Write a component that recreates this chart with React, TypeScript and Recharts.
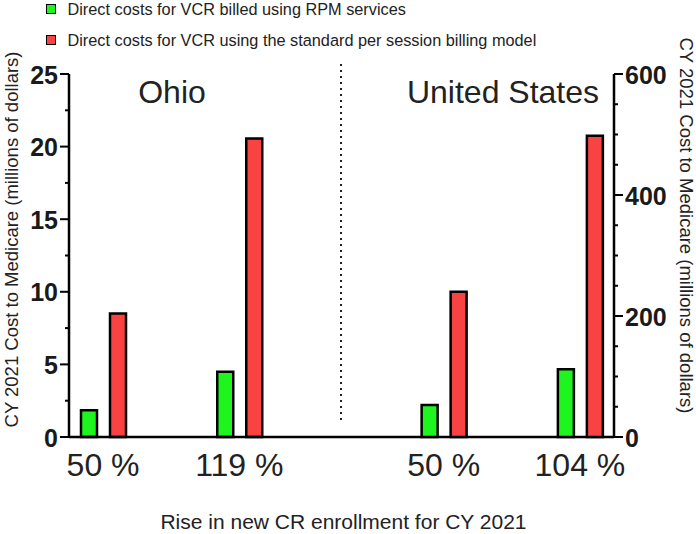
import { BarChart, Bar, XAxis, YAxis, Legend, Label } from "recharts";

const FONT = "'Liberation Sans', Arial, sans-serif";

// rise in new CR enrollment (x categories)
const OHIO_RISE = ["50 %", "119 %"];
const US_RISE = ["50 %", "104 %"];

// CY 2021 cost to Medicare, millions of dollars
const OHIO_RPM = [1.85, 4.5];
const OHIO_STANDARD = [8.5, 20.55];
const US_RPM = [53, 112];
const US_STANDARD = [240, 498];

const OHIO_TICKS = [0, 2.5, 5, 7.5, 10, 12.5, 15, 17.5, 20, 22.5, 25];
const US_TICKS = [0, 50, 100, 150, 200, 250, 300, 350, 400, 450, 500, 550, 600];

const RPM_NAME = "Direct costs for VCR billed using RPM services";
const STANDARD_NAME = "Direct costs for VCR using the standard per session billing model";
const GREEN = "#1ef51e";
const RED = "#f94343";

type Row = {
  key: string;
  label: string;
  ohioRpm?: number;
  ohioStd?: number;
  usRpm?: number;
  usStd?: number;
};

const gap = (key: string): Row => ({ key, label: "" });

// 8 equal slots: empty ones keep the gaps between pairs and groups
const rows: Row[] = [
  { key: "oh0", label: OHIO_RISE[0], ohioRpm: OHIO_RPM[0], ohioStd: OHIO_STANDARD[0] },
  gap("g1"),
  { key: "oh1", label: OHIO_RISE[1], ohioRpm: OHIO_RPM[1], ohioStd: OHIO_STANDARD[1] },
  gap("g2"),
  gap("g3"),
  { key: "us0", label: US_RISE[0], usRpm: US_RPM[0], usStd: US_STANDARD[0] },
  gap("g4"),
  { key: "us1", label: US_RISE[1], usRpm: US_RPM[1], usStd: US_STANDARD[1] },
];

const W = 696;
const H = 534;
const MARGIN = { top: 74, right: 0, bottom: 0, left: 0 };
const LEFT_W = 69;
const RIGHT_W = 82;
const X_H = 97;

function LeftTick({ x, y, payload }: any) {
  const major = payload.value % 5 === 0;
  return (
    <g>
      <line x1={x - (major ? 9 : 4)} x2={x} y1={y} y2={y} stroke="#000" strokeWidth={2} />
      {major && (
        <text x={x - 11} y={y} dy={9.5} textAnchor="end" fontFamily={FONT} fontSize={25} fontWeight={700} fill="#1a1a1a">
          {payload.value}
        </text>
      )}
    </g>
  );
}

function RightTick({ x, y, payload }: any) {
  const major = payload.value % 200 === 0;
  return (
    <g>
      <line x1={x} x2={x + (major ? 9 : 4)} y1={y} y2={y} stroke="#000" strokeWidth={2} />
      {major && (
        <text x={x + 11} y={y} dy={9.5} textAnchor="start" fontFamily={FONT} fontSize={25} fontWeight={700} fill="#1a1a1a">
          {payload.value}
        </text>
      )}
    </g>
  );
}

function XTick({ x, y, payload }: any) {
  const row = rows.find((r) => r.key === payload.value);
  if (!row || !row.label) return null;
  return (
    <text x={x} y={y} dy={39} textAnchor="middle" fontFamily={FONT} fontSize={32} fill="#222">
      {row.label}
    </text>
  );
}

function LeftTitle({ viewBox }: any) {
  const cx = viewBox.x + 11;
  const cy = viewBox.y + viewBox.height / 2 - 16;
  return (
    <text x={cx} y={cy} transform={`rotate(-90 ${cx} ${cy})`} textAnchor="middle" dominantBaseline="central" fontFamily={FONT} fontSize={18.5} fill="#222">
      CY 2021 Cost to Medicare (millions of dollars)
    </text>
  );
}

function RightTitle({ viewBox }: any) {
  const cx = viewBox.x + 72;
  const cy = viewBox.y + viewBox.height / 2 - 30;
  return (
    <text x={cx} y={cy} transform={`rotate(90 ${cx} ${cy})`} textAnchor="middle" dominantBaseline="central" fontFamily={FONT} fontSize={18.5} fill="#222">
      CY 2021 Cost to Medicare (millions of dollars)
    </text>
  );
}

function XTitle({ viewBox }: any) {
  return (
    <text x={viewBox.x + viewBox.width / 2 + 2} y={viewBox.y + 91.5} textAnchor="middle" fontFamily={FONT} fontSize={21} fill="#222">
      Rise in new CR enrollment for CY 2021
    </text>
  );
}

const LEGEND_COLORS = [GREEN, RED];

function LegendBox({ payload }: any) {
  return (
    <div style={{ fontFamily: FONT, fontSize: 16.3, color: "#222" }}>
      {(payload || []).map((p: any, i: number) => (
        <div key={p.value} style={{ display: "flex", alignItems: "center", height: 31, whiteSpace: "nowrap" }}>
          <span
            style={{
              display: "inline-block",
              width: 8,
              height: 8,
              border: "1.5px solid #000",
              background: LEGEND_COLORS[i],
              marginRight: 12,
            }}
          />
          {p.value}
        </div>
      ))}
    </div>
  );
}

const layer: React.CSSProperties = { position: "absolute", left: 0, top: 0 };

export default function App() {
  return (
    <div style={{ position: "absolute", left: 0, top: 0, width: W, height: H, background: "#fff", fontFamily: FONT }}>
      {/* Ohio, left axis */}
      <div style={layer}>
        <BarChart width={W} height={H} data={rows} margin={MARGIN} barGap={13}>
          <XAxis
            dataKey="key"
            height={X_H}
            tickSize={0}
            tickMargin={0}
            tick={<XTick />}
            interval={0}
            axisLine={{ stroke: "#000", strokeWidth: 2.5 }}
          >
            <Label content={<XTitle />} />
          </XAxis>
          <YAxis
            yAxisId="left"
            orientation="left"
            width={LEFT_W}
            domain={[0, 25]}
            ticks={OHIO_TICKS}
            interval={0}
            tickSize={0}
            tickMargin={0}
            tick={<LeftTick />}
            axisLine={{ stroke: "#000", strokeWidth: 2.5 }}
          >
            <Label content={<LeftTitle />} />
          </YAxis>
          <YAxis yAxisId="right" orientation="right" width={RIGHT_W} domain={[0, 600]} axisLine={false} tickLine={false} tick={false} />
          <Legend
            layout="vertical"
            align="center"
            verticalAlign="middle"
            content={<LegendBox />}
            wrapperStyle={{ top: -6.5, left: 45.5, width: 560, height: 62 }}
          />
          <Bar yAxisId="left" dataKey="ohioRpm" name={RPM_NAME} fill={GREEN} stroke="#000" strokeWidth={2.5} barSize={16} isAnimationActive={false} />
          <Bar yAxisId="left" dataKey="ohioStd" name={STANDARD_NAME} fill={RED} stroke="#000" strokeWidth={2.5} barSize={16} isAnimationActive={false} />
        </BarChart>
      </div>

      {/* United States, right axis */}
      <div style={layer}>
        <BarChart width={W} height={H} data={rows} margin={MARGIN} barGap={13}>
          <XAxis dataKey="key" height={X_H} tick={false} tickLine={false} axisLine={false} />
          <YAxis yAxisId="left" orientation="left" width={LEFT_W} domain={[0, 25]} axisLine={false} tickLine={false} tick={false} />
          <YAxis
            yAxisId="right"
            orientation="right"
            width={RIGHT_W}
            domain={[0, 600]}
            ticks={US_TICKS}
            interval={0}
            tickSize={0}
            tickMargin={0}
            tick={<RightTick />}
            axisLine={{ stroke: "#000", strokeWidth: 2.5 }}
          >
            <Label content={<RightTitle />} />
          </YAxis>
          <Bar yAxisId="right" dataKey="usRpm" name={RPM_NAME} fill={GREEN} stroke="#000" strokeWidth={2.5} barSize={16} isAnimationActive={false} />
          <Bar yAxisId="right" dataKey="usStd" name={STANDARD_NAME} fill={RED} stroke="#000" strokeWidth={2.5} barSize={16} isAnimationActive={false} />
        </BarChart>
      </div>

      {/* group titles and divider */}
      <svg width={W} height={H} style={{ ...layer, pointerEvents: "none" }}>
        <text x={172} y={103} textAnchor="middle" fontFamily={FONT} fontSize={32} fill="#222">
          Ohio
        </text>
        <text x={503} y={103} textAnchor="middle" fontFamily={FONT} fontSize={32} fill="#222">
          United States
        </text>
        <line x1={341} x2={341} y1={64} y2={423} stroke="#222" strokeWidth={2} strokeDasharray="2 4" />
      </svg>
    </div>
  );
}
